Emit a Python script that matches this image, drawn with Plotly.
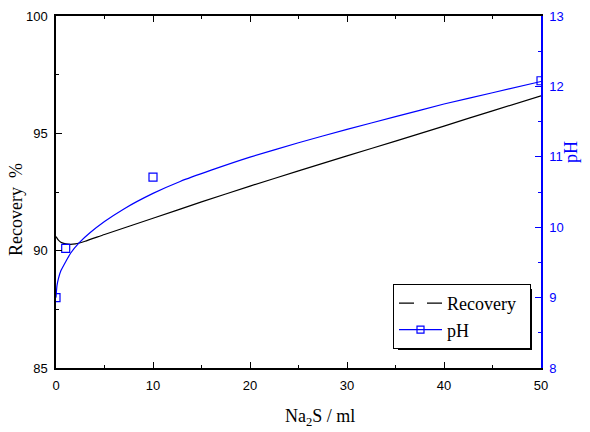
import plotly.graph_objects as go

# Recovery fit curve
rec_x = [0, 0.25, 0.5, 1, 1.5, 2, 3, 5, 10, 15, 20, 25, 30, 35, 40, 45, 50]
rec_y = [90.60, 90.45, 90.36, 90.29, 90.27, 90.29, 90.40, 90.69, 91.38, 92.08,
         92.75, 93.40, 94.04, 94.67, 95.31, 95.96, 96.60]

# pH fit curve
ph_fit_x = [0, 0.1, 0.25, 0.5, 1, 1.5, 2.4, 3.5, 5, 7, 10, 12.8, 16,
            20, 25, 30, 35, 40, 45, 50]
ph_fit_y = [9.00, 9.17, 9.27, 9.38, 9.51, 9.63, 9.78, 9.92, 10.08, 10.26,
            10.48, 10.65, 10.81, 10.995, 11.20, 11.39, 11.57, 11.75, 11.91, 12.07]

# pH measured points
ph_x = [0, 1, 10, 50]
ph_y = [9.0, 9.7, 10.71, 12.08]

BLUE = "#0000FF"
SERIF = "Liberation Serif"
SANS = "Liberation Sans"
NB = "\u00a0"

fig = go.Figure()
fig.add_trace(go.Scatter(x=rec_x, y=rec_y, mode="lines", showlegend=False,
                         line=dict(color="black", width=1.2, shape="spline", smoothing=0.5)))
fig.add_trace(go.Scatter(x=ph_fit_x, y=ph_fit_y, mode="lines", yaxis="y2", showlegend=False,
                         line=dict(color=BLUE, width=1.2, shape="spline", smoothing=0.5)))
fig.add_trace(go.Scatter(x=ph_x, y=ph_y, mode="markers", yaxis="y2", showlegend=False,
                         marker=dict(symbol="square-open", size=8, color=BLUE,
                                     line=dict(width=1.2, color=BLUE))))
# legend entries
fig.add_trace(go.Scatter(x=[None], y=[None], mode="lines+markers", name="Recovery" + NB * 2,
                         line=dict(color="black", width=1.2),
                         marker=dict(symbol="square", size=13, color="white",
                                     line=dict(width=0, color="white"))))
fig.add_trace(go.Scatter(x=[None], y=[None], mode="lines+markers", yaxis="y2", name="pH",
                         line=dict(color=BLUE, width=1.2),
                         marker=dict(symbol="square-open", size=7, color=BLUE,
                                     line=dict(width=1.2, color=BLUE))))

W, H = 590, 432
L, R, T, B = 56, 49, 16, 64
pw, ph = W - L - R, H - T - B

def px(xp):
    return (xp - L) / pw

def py(yp):
    return (H - B - yp) / ph

axis_common = dict(showgrid=False, zeroline=False, ticks="inside", ticklen=6, tickwidth=1.2,
                   showline=True, linewidth=1.5)

fig.update_layout(
    width=W, height=H,
    margin=dict(l=L, r=R, t=T, b=B, autoexpand=False),
    paper_bgcolor="white", plot_bgcolor="white",
    showlegend=True,
    xaxis=dict(range=[0, 50], dtick=10, tick0=0, linecolor="black", tickcolor="black",
               mirror="ticks", tickfont=dict(family=SANS, size=13, color="black"),
               ticklabelstandoff=5,
               minor=dict(dtick=5, ticks="inside", ticklen=3.5, tickcolor="black", tickwidth=1.2),
               **axis_common),
    yaxis=dict(range=[85, 100], dtick=5, tick0=85, linecolor="black", tickcolor="black",
               tickfont=dict(family=SANS, size=13, color="black"), ticklabelstandoff=4,
               minor=dict(dtick=2.5, ticks="inside", ticklen=3.5, tickcolor="black", tickwidth=1.2),
               **axis_common),
    yaxis2=dict(range=[8, 13], dtick=1, tick0=8, overlaying="y", side="right",
                linecolor=BLUE, tickcolor=BLUE, ticklabelstandoff=4,
                tickfont=dict(family=SANS, size=13, color=BLUE),
                minor=dict(dtick=0.5, ticks="inside", ticklen=3.5, tickcolor=BLUE, tickwidth=1.2),
                **axis_common),
    legend=dict(x=px(393), y=py(284), xanchor="left", yanchor="top",
                bgcolor="white", bordercolor="black", borderwidth=1,
                font=dict(family=SERIF, size=18, color="black"),
                tracegroupgap=0, itemwidth=43),
    shapes=[dict(type="rect", xref="paper", yref="paper", layer="above",
                 x0=px(398), x1=px(532), y0=py(350), y1=py(289),
                 fillcolor="black", line=dict(width=0))],
    annotations=[
        dict(text="Recovery  %", xref="paper", yref="paper", x=px(16), y=py(210),
             xanchor="center", yanchor="middle",
             textangle=-90, showarrow=False, font=dict(family=SERIF, size=18, color="black")),
        dict(text="pH", xref="paper", yref="paper", x=px(571), y=py(152),
             xanchor="center", yanchor="middle",
             textangle=-90, showarrow=False, font=dict(family=SERIF, size=18, color=BLUE)),
        dict(text="Na<sub>2</sub>S / ml", xref="paper", yref="paper", x=px(320), y=py(417),
             xanchor="center", yanchor="middle",
             showarrow=False, font=dict(family=SERIF, size=18, color="black")),
    ],
)

fig.write_html("out.html")
